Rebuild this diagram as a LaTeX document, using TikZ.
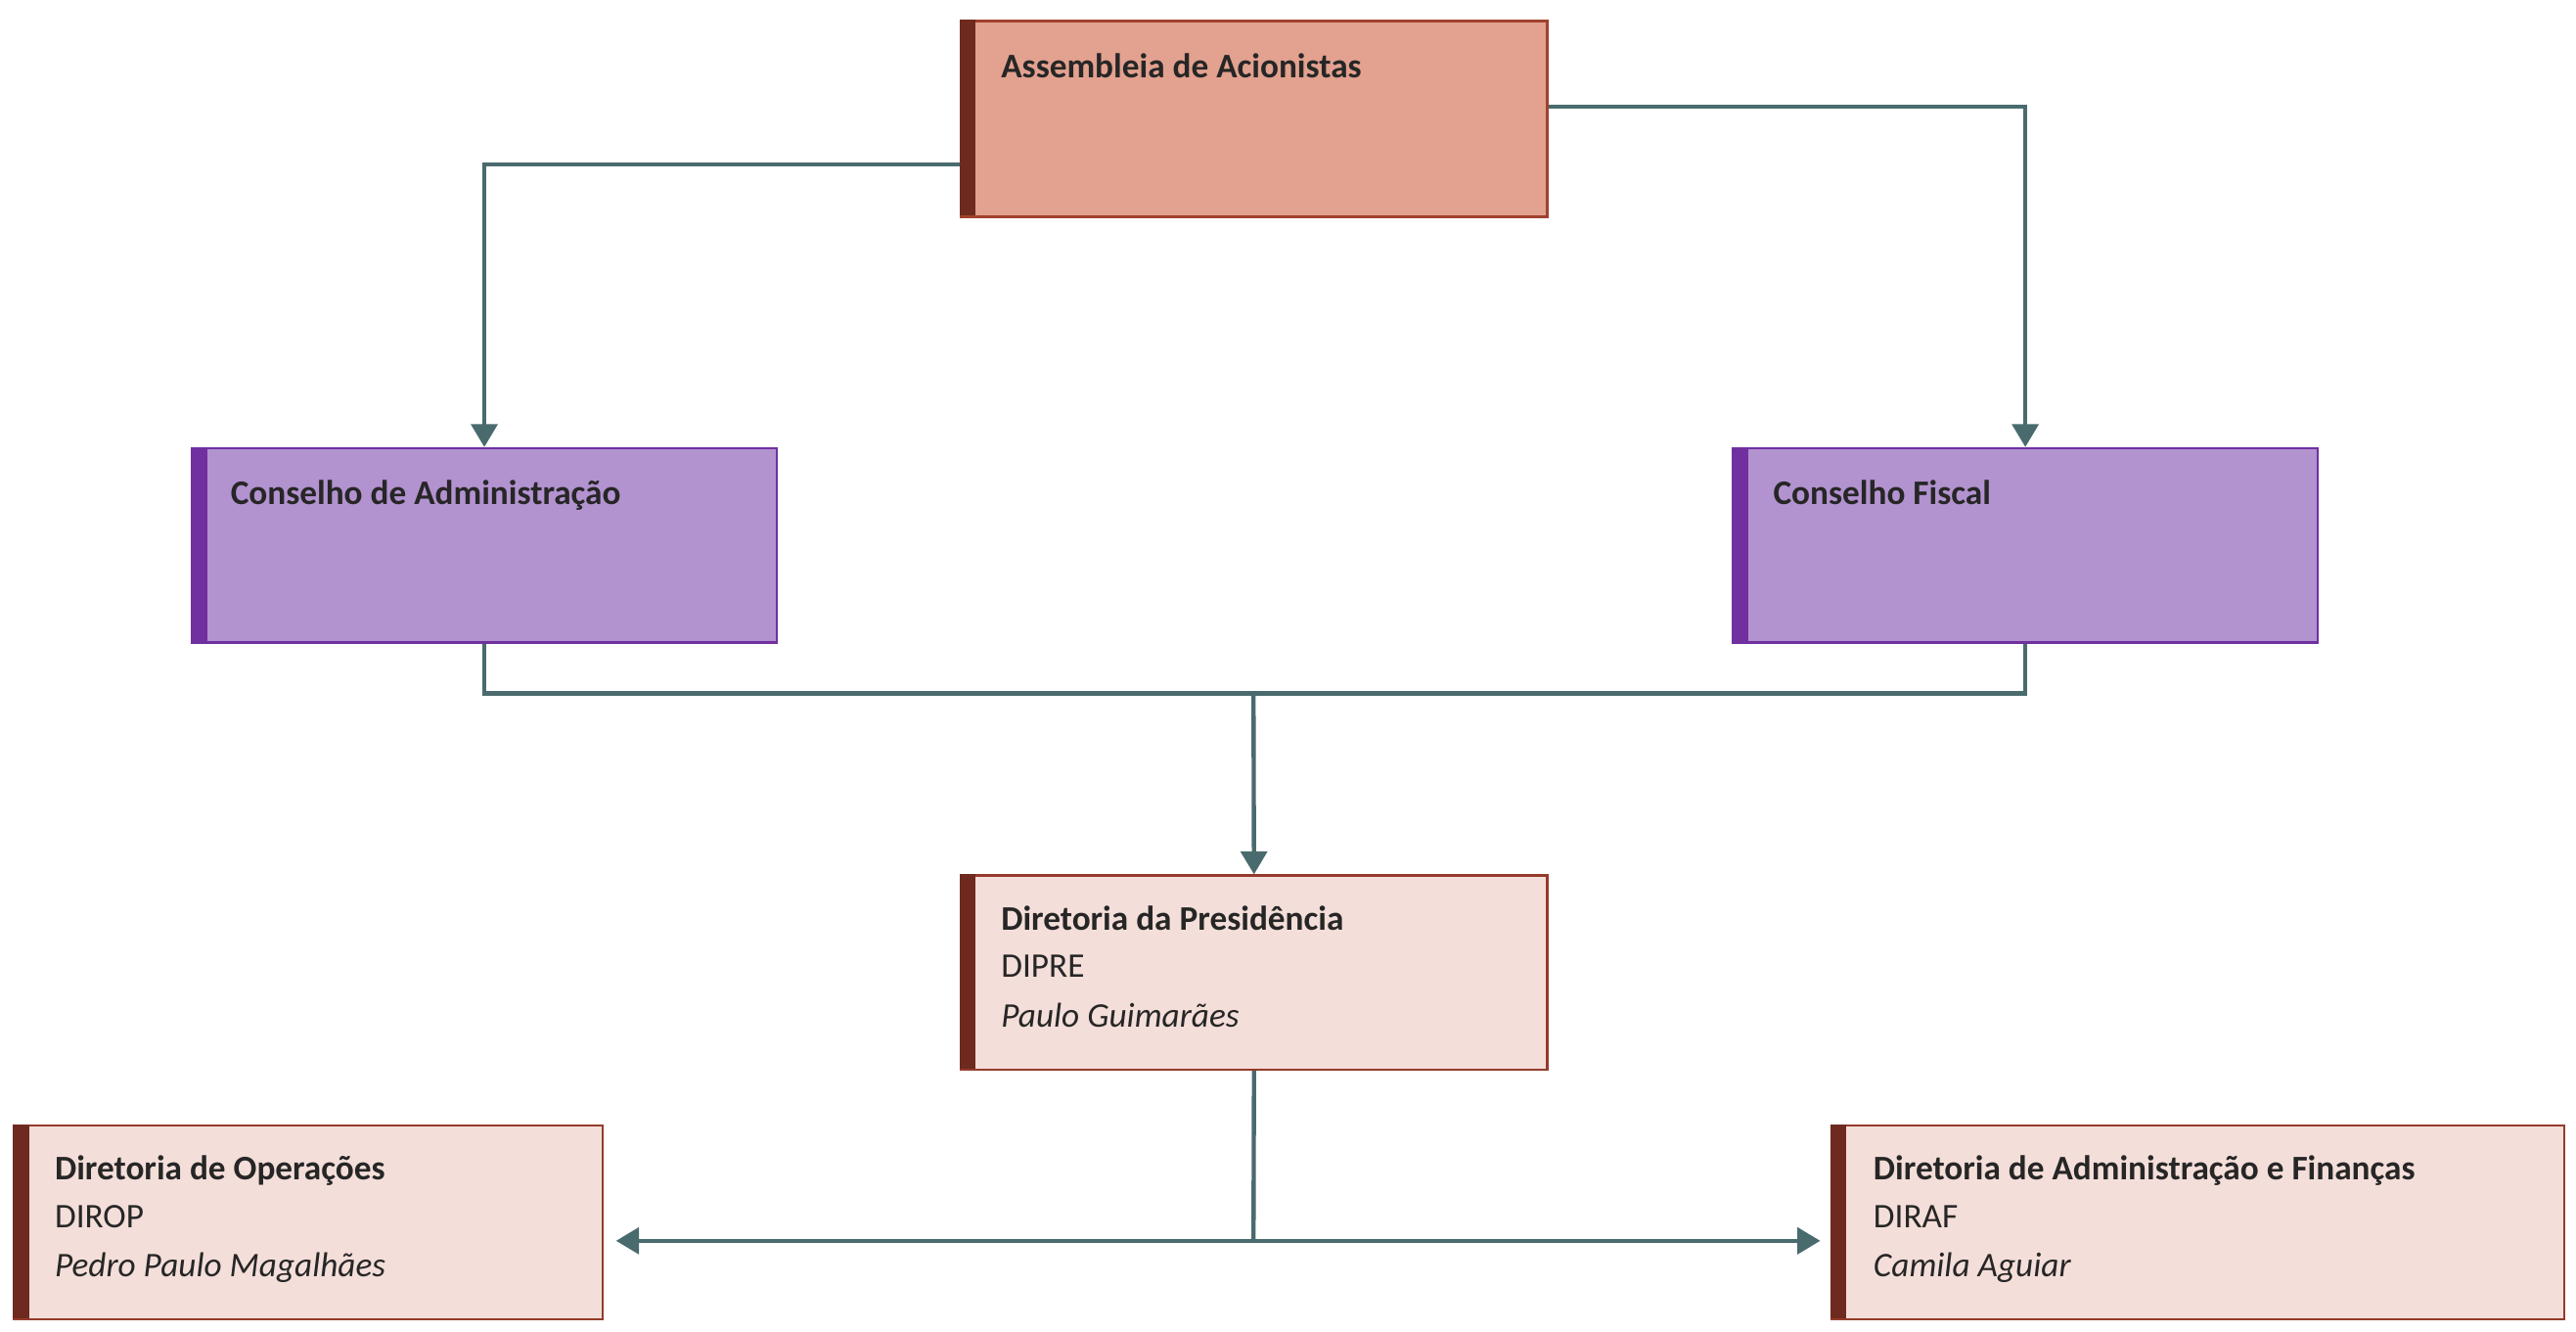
\documentclass[tikz,border=0pt]{standalone}
\usepackage{fontspec}
\setmainfont{Carlito}
\usetikzlibrary{arrows.meta,calc}
\definecolor{lineC}{HTML}{4A6B6E}
\definecolor{salmon}{HTML}{E3A18F}
\definecolor{salmonB}{HTML}{A0412D}
\definecolor{darkred}{HTML}{6E2A1F}
\definecolor{pink}{HTML}{F4DED9}
\definecolor{pinkB}{HTML}{943B2B}
\definecolor{purp}{HTML}{B292CF}
\definecolor{purpB}{HTML}{7030A0}
\definecolor{txt}{HTML}{262626}
\begin{document}
\begin{tikzpicture}[x=0.5pt,y=-0.5pt,
  conn/.style={lineC,line width=1.3pt},
  arr/.style={conn,-{Triangle[width=8pt,length=7pt]}},
  ttl/.style={anchor=north west,inner sep=0pt,font=\fontsize{10.5}{15}\selectfont\bfseries,text=txt},
  sub/.style={anchor=north west,inner sep=0pt,font=\fontsize{10.5}{15}\selectfont,text=txt,align=left}]
\useasboundingbox (0,0) rectangle (1568,810);
% box macro via pic-less commands
\newcommand{\mybox}[8]{% name,x1,y1,x2,y2,fill,border,bar
  \node[draw=#7,fill=#6,line width=0.8pt,inner sep=0pt,minimum width={(#4-#2)*0.5pt},minimum height={(#5-#3)*0.5pt},anchor=north west] (#1) at (#2,#3) {};
  \fill[#8] (#2,#3) rectangle ({#2+10},#5);}
\mybox{asm}{584}{12}{941}{131}{salmon}{salmonB}{darkred}
\mybox{ca}{116}{272}{472}{390}{purp}{purpB}{purpB}
\mybox{cf}{1054}{272}{1410}{390}{purp}{purpB}{purpB}
\mybox{pre}{584}{532}{941}{650}{pink}{pinkB}{darkred}
\mybox{op}{8}{684}{366}{802}{pink}{pinkB}{darkred}
\mybox{af}{1114}{684}{1560}{802}{pink}{pinkB}{darkred}
\node[ttl] (tasm) at (609,32) {Assembleia de Acionistas};
\node[ttl] (tca) at (140,292) {Conselho de Administração};
\node[ttl] (tcf) at (1079,292) {Conselho Fiscal};
\node[ttl] (tpre) at (609,551) {Diretoria da Presidência};
\node[sub] (spre) at (609,581) {DIPRE\\\textit{Paulo Guimarães}};
\node[ttl] (top) at (33,703) {Diretoria de Operações};
\node[sub] (sop) at (33,733) {DIROP\\\textit{Pedro Paulo Magalhães}};
\node[ttl] (taf) at (1140,703) {Diretoria de Administração e Finanças};
\node[sub] (saf) at (1140,733) {DIRAF\\\textit{Camila Aguiar}};
\coordinate (j1) at (763,422);
\coordinate (j2) at (763,755);
\draw[arr] (asm.west |- 0,100) -| (ca.north);
\draw[arr] (asm.east |- 0,65) -| (cf.north);
\draw[conn] (ca.south) |- (j1);
\draw[conn] (cf.south) |- (j1);
\draw[arr] (j1) -- (pre.north);
\draw[conn] (pre.south) -- (j2);
\draw[arr] (j2) -- (375,755);
\draw[arr] (j2) -- (1108,755);
\end{tikzpicture}
\end{document}
